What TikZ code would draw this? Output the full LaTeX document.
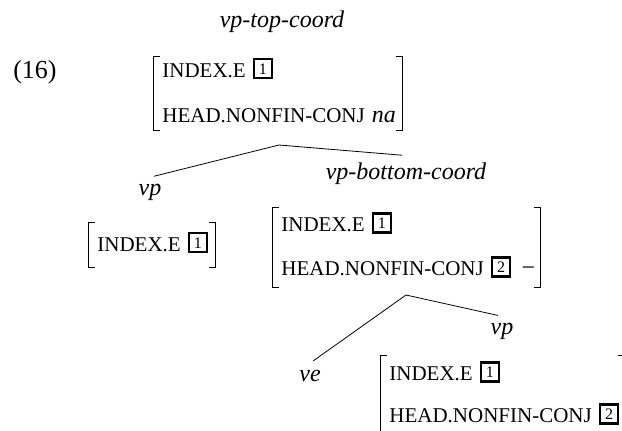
\documentclass[tikz,border=0pt]{standalone}
\usepackage{fontspec}
\setmainfont{Liberation Serif}
\usepackage{tikz}
\newcommand{\ftag}[1]{\raisebox{1.6pt}{\setlength{\fboxsep}{1.4pt}\setlength{\fboxrule}{1.2pt}\fbox{\makebox[5pt]{\rule{0pt}{5.6pt}\fontsize{8}{8}\selectfont #1}}}}
\newcommand{\lowstrut}{\rule[-3.5pt]{0pt}{0pt}}

\begin{document}
\begin{tikzpicture}[
  lbl/.style={font=\fontsize{12}{14}\selectfont\itshape},
  avm/.style={anchor=north west, inner xsep=4.5pt, inner ysep=0pt, align=left,
    font=\fontsize{10.5}{12.6}\selectfont},
  branch/.style={shorten >=2pt}]
  \begin{scope}

  \clip (0,0) rectangle (311pt,-215pt);

  \node[font=\fontsize{13}{15}\selectfont] (ex) at (17.5pt,-36pt) {(16)};
  \node[lbl] (vptop) at (141pt,-11pt) {vp-top-coord};

  \node[avm, text width=115.5pt, minimum height=37pt] (top) at (76.5pt,-28pt)
    {\mbox{INDEX.E \ftag{1}}\\[9.8pt]\mbox{HEAD.NONFIN-CONJ {\fontsize{12}{14}\selectfont\itshape na}}\lowstrut};

  \node[lbl] (vp1) at (75pt,-96.25pt) {vp};
  \node[lbl] (vpbot) at (203pt,-86.75pt) {vp-bottom-coord};

  \node[avm, text width=54.5pt, minimum height=22.5pt] (lft) at (44pt,-111pt) {\mbox{INDEX.E \ftag{1}}\lowstrut};

  \node[avm, text width=125pt, minimum height=40pt] (mid) at (136pt,-103.5pt)
    {\mbox{INDEX.E \ftag{1}}\\[9.4pt]\mbox{HEAD.NONFIN-CONJ \ftag{2} \,{\fontsize{12}{14}\selectfont −}}\lowstrut};

  \node[lbl] (vp2) at (251pt,-165.8pt) {vp};
  \node[lbl] (ve) at (155pt,-188pt) {ve};

  \node[avm, text width=113pt, minimum height=40pt] (bot) at (190pt,-177.5pt)
    {\mbox{INDEX.E \ftag{1}}\\[8.4pt]\mbox{HEAD.NONFIN-CONJ \ftag{2}}\lowstrut};

  % brackets
  \draw ([xshift=3.5pt]top.north west) -- (top.north west) -- (top.south west) -- ([xshift=3.5pt]top.south west);
  \draw ([xshift=-3.5pt]top.north east) -- (top.north east) -- (top.south east) -- ([xshift=-3.5pt]top.south east);
  \draw ([xshift=3.5pt]lft.north west) -- (lft.north west) -- (lft.south west) -- ([xshift=3.5pt]lft.south west);
  \draw ([xshift=-3.5pt]lft.north east) -- (lft.north east) -- (lft.south east) -- ([xshift=-3.5pt]lft.south east);
  \draw ([xshift=3.5pt]mid.north west) -- (mid.north west) -- (mid.south west) -- ([xshift=3.5pt]mid.south west);
  \draw ([xshift=-3.5pt]mid.north east) -- (mid.north east) -- (mid.south east) -- ([xshift=-3.5pt]mid.south east);
  \draw ([xshift=3.5pt]bot.north west) -- (bot.north west) -- (bot.south west) -- ([xshift=3.5pt]bot.south west);
  \draw ([xshift=-3.5pt]bot.north east) -- (bot.north east) -- (bot.south east) -- ([xshift=-3.5pt]bot.south east);

  \coordinate (topapex) at (139.5pt,-72.5pt);
  \coordinate (midapex) at (203pt,-147.5pt);

  \draw[branch] (topapex) -- (vp1.north);
  \draw[branch] (topapex) -- (vpbot.north);
  \draw[branch] (midapex) -- (ve.north);
  \draw[branch] (midapex) -- (vp2.north);

  \end{scope}
\end{tikzpicture}
\end{document}
